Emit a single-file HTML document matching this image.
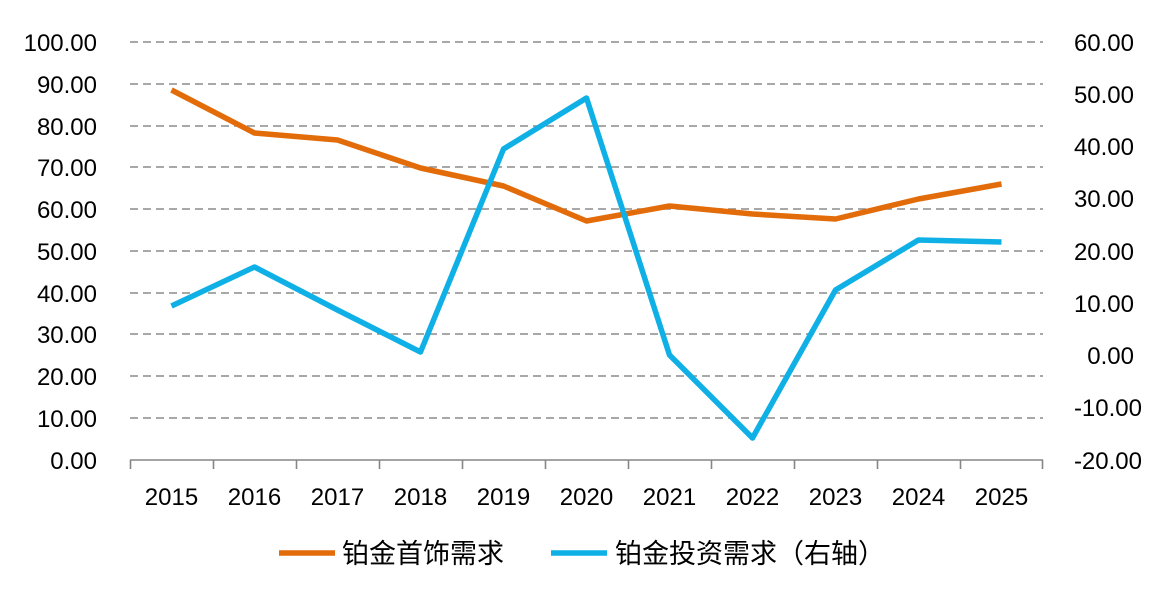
<!DOCTYPE html>
<html><head><meta charset="utf-8"><style>
body{margin:0;background:#fff;}
svg text{font-family:"Liberation Sans","Noto Sans CJK SC",sans-serif;font-size:24px;fill:#000;}
svg text.lg{font-size:27px;}
</style></head><body>
<svg width="1171" height="596" xmlns="http://www.w3.org/2000/svg">
<g stroke="#8c8c8c" stroke-width="1.6" stroke-dasharray="8,5">
<line x1="130" y1="42" x2="1043" y2="42"/>
<line x1="130" y1="84" x2="1043" y2="84"/>
<line x1="130" y1="126" x2="1043" y2="126"/>
<line x1="130" y1="167" x2="1043" y2="167"/>
<line x1="130" y1="209" x2="1043" y2="209"/>
<line x1="130" y1="251" x2="1043" y2="251"/>
<line x1="130" y1="293" x2="1043" y2="293"/>
<line x1="130" y1="334" x2="1043" y2="334"/>
<line x1="130" y1="376" x2="1043" y2="376"/>
<line x1="130" y1="418" x2="1043" y2="418"/>
</g>
<g stroke="#868686" stroke-width="1.6">
<line x1="130" y1="460" x2="1043" y2="460"/>
<line x1="130.5" y1="460" x2="130.5" y2="469"/><line x1="213.5" y1="460" x2="213.5" y2="469"/><line x1="296.5" y1="460" x2="296.5" y2="469"/><line x1="379.5" y1="460" x2="379.5" y2="469"/><line x1="462.5" y1="460" x2="462.5" y2="469"/><line x1="545.5" y1="460" x2="545.5" y2="469"/><line x1="628.5" y1="460" x2="628.5" y2="469"/><line x1="711.5" y1="460" x2="711.5" y2="469"/><line x1="794.5" y1="460" x2="794.5" y2="469"/><line x1="877.5" y1="460" x2="877.5" y2="469"/><line x1="960.5" y1="460" x2="960.5" y2="469"/><line x1="1042.5" y1="460" x2="1042.5" y2="469"/>
</g>
<g text-anchor="end">
<text x="97" y="51">100.00</text><text x="97" y="93">90.00</text><text x="97" y="135">80.00</text><text x="97" y="176">70.00</text><text x="97" y="218">60.00</text><text x="97" y="260">50.00</text><text x="97" y="302">40.00</text><text x="97" y="343">30.00</text><text x="97" y="385">20.00</text><text x="97" y="427">10.00</text><text x="97" y="469">0.00</text>
</g>
<g text-anchor="end">
<text x="1134" y="51">60.00</text><text x="1134" y="103">50.00</text><text x="1134" y="155">40.00</text><text x="1134" y="207">30.00</text><text x="1134" y="260">20.00</text><text x="1134" y="312">10.00</text><text x="1134" y="364">0.00</text><text x="1142" y="416">-10.00</text><text x="1142" y="469">-20.00</text>
</g>
<g text-anchor="middle">
<text x="171.5" y="505">2015</text><text x="254.5" y="505">2016</text><text x="337.5" y="505">2017</text><text x="420.5" y="505">2018</text><text x="503.5" y="505">2019</text><text x="586.5" y="505">2020</text><text x="669.5" y="505">2021</text><text x="752.5" y="505">2022</text><text x="835.5" y="505">2023</text><text x="918.5" y="505">2024</text><text x="1001.5" y="505">2025</text>
</g>
<polyline fill="none" stroke="#e36c0a" stroke-width="5.5" stroke-linejoin="round" points="171.5,90 254.5,133 337.5,140 420.5,168 503.5,186 586.5,221 669.5,206 752.5,214 835.5,219 918.5,199 1001.5,184"/>
<polyline fill="none" stroke="#0fb0e6" stroke-width="5.5" stroke-linejoin="round" points="171.5,306 254.5,267 337.5,310 420.5,352 503.5,149 586.5,98 669.5,355 752.5,438 835.5,290 918.5,240 1001.5,242"/>
<line x1="279" y1="553" x2="335" y2="553" stroke="#e36c0a" stroke-width="5.5"/>
<text class="lg" x="342" y="563">铂金首饰需求</text>
<line x1="551" y1="553" x2="607" y2="553" stroke="#0fb0e6" stroke-width="5.5"/>
<text class="lg" x="615" y="563">铂金投资需求（右轴）</text>
</svg>
</body></html>
